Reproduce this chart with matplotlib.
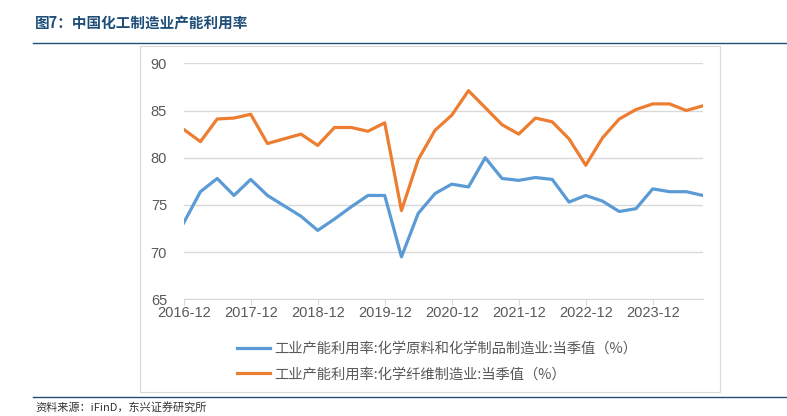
import numpy as np
import matplotlib.pyplot as plt
import pandas as pd
from matplotlib.lines import Line2D
from matplotlib.patches import Rectangle

plt.rcParams['font.family'] = ['Noto Sans CJK SC', 'DejaVu Sans']

# quarterly data, 2016-12 .. 2024-09
dates = pd.period_range('2016Q4', '2024Q3', freq='Q')
chem_raw = [73.1, 76.4, 77.8, 76.0, 77.7, 76.0, 74.9, 73.8, 72.3, 73.5, 74.8, 76.0,
            76.0, 69.5, 74.1, 76.2, 77.2, 76.9, 80.0, 77.8, 77.6, 77.9, 77.7, 75.3,
            76.0, 75.4, 74.3, 74.6, 76.7, 76.4, 76.4, 76.0]
chem_fiber = [83.0, 81.7, 84.1, 84.2, 84.6, 81.5, 82.0, 82.5, 81.3, 83.2, 83.2, 82.8,
              83.7, 74.4, 79.8, 82.9, 84.5, 87.1, 85.3, 83.5, 82.5, 84.2, 83.8, 82.0,
              79.2, 82.1, 84.1, 85.1, 85.7, 85.7, 85.0, 85.5]
labels = ['工业产能利用率:化学原料和化学制品制造业:当季值（%）',
          '工业产能利用率:化学纤维制造业:当季值（%）']
year_ticks = ['2016-12', '2017-12', '2018-12', '2019-12', '2020-12', '2021-12', '2022-12', '2023-12']

x = np.arange(len(dates))
tick_pos = [i for i, d in enumerate(dates) if d.quarter == 4]

W, H = 787, 416
fig = plt.figure(figsize=(W / 100, H / 100), dpi=100)
ax = fig.add_axes([183.7 / W, 1 - 299.3 / H, (703 - 183.7) / W, (299.3 - 63.3) / H])

l1, = ax.plot(x, chem_raw, color='#5B9BD5', lw=2.3, solid_joinstyle='round')
l2, = ax.plot(x, chem_fiber, color='#ED7D31', lw=2.3, solid_joinstyle='round')

ax.set_xlim(x[0], x[-1])
ax.set_ylim(65, 90)
ax.set_yticks(range(65, 91, 5))
ax.set_xticks(tick_pos)
ax.set_xticklabels(year_ticks)
ax.grid(axis='y', color='#D9D9D9', lw=1)
ax.set_axisbelow(True)
for s in ['left', 'right', 'top']:
    ax.spines[s].set_visible(False)
ax.spines['bottom'].set_color('#D9D9D9')
ax.tick_params(axis='y', length=0, pad=12, labelsize=10.5, labelcolor='#595959')
ax.tick_params(axis='x', length=4, color='#D9D9D9', pad=1, labelsize=10.5, labelcolor='#595959')
for t in ax.get_xticklabels() + ax.get_yticklabels():
    t.set_fontfamily('Liberation Sans')

leg = fig.legend([l1, l2], labels, loc='upper left', bbox_to_anchor=(224 / W, 1 - 329 / H),
                 frameon=False, fontsize=10.3, handlelength=2.3, labelspacing=0.8,
                 handletextpad=0.3, labelcolor='#595959')

# outer chart box
fig.add_artist(Rectangle((140 / W, 1 - 392 / H), 580 / W, 346 / H, transform=fig.transFigure,
                         fill=False, edgecolor='#D9D9D9', lw=0.8))

# title and rules
fig.text(35 / W, 1 - 23 / H, '图7：中国化工制造业产能利用率', fontsize=10.5, fontweight='bold',
         color='#1F4E79', va='center', ha='left')
fig.add_artist(Line2D([33 / W, 1], [1 - 43 / H, 1 - 43 / H], transform=fig.transFigure,
                      color='#1F4E79', lw=1))
fig.add_artist(Line2D([33 / W, 1], [1 - 396.5 / H, 1 - 396.5 / H], transform=fig.transFigure,
                      color='#1F4E79', lw=1))
fig.text(35 / W, 1 - 402 / H, '资料来源：iFinD，东兴证券研究所', fontsize=8, style='italic',
         color='#333333', va='top', ha='left')

fig.savefig('out.png', dpi=100)
